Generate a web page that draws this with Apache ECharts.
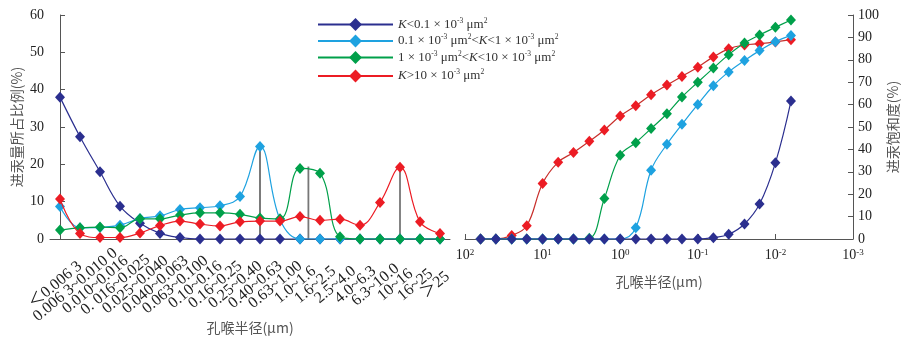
<!DOCTYPE html>
<html>
<head>
<meta charset="utf-8">
<script src="https://cdn.jsdelivr.net/npm/echarts@6/dist/echarts.min.js"></script>
<style>
  html, body { margin: 0; padding: 0; background: #fff; }
  #main { width: 918px; height: 341px; }
</style>
</head>
<body>
<div id="main"></div>
<script>
// 孔喉半径区间 (left panel)
const categories = ['＜0.006 3', '0.006 3~0.010 0', '0.010~0.016', '0. 016~0.025', '0.025~0.040',
  '0.040~0.063', '0.063~0.100', '0.10~0.16', '0.16~0.25', '0.25~0.40', '0.40~0.63', '0.63~1.00',
  '1.0~1.6', '1.6~2.5', '2.5~4.0', '4.0~6.3', '6.3~10.0', '10~16', '16~25', '＞25']

// 进汞量所占比例 (%)
const shareLowK = [38.0, 27.4, 18.0, 8.8, 4.2, 1.5, 0.4, 0, 0, 0, 0, 0, 0, 0, 0, 0, 0, 0, 0, 0]
const shareMidLowK = [8.7, 3.0, 3.1, 3.7, 5.5, 6.2, 7.9, 8.4, 8.9, 11.4, 24.8, 5.2, 0, 0, 0, 0, 0, 0, 0, 0]
const shareMidHighK = [2.4, 3.0, 3.2, 3.0, 5.4, 5.4, 6.4, 7.0, 7.0, 6.6, 5.6, 5.4, 18.9, 17.6, 0.6, 0, 0, 0, 0, 0]
const shareHighK = [10.7, 1.5, 0.4, 0.4, 1.6, 3.6, 4.8, 4.0, 3.5, 4.6, 4.8, 4.8, 6.0, 5.0, 5.3, 3.7, 9.8, 19.2, 4.6, 1.5]

// peak markers (category index, value)
const peakIndex = [10, 12.42, 17]
const peakValue = [24.8, 19.4, 19.2]

// 孔喉半径 (μm), right panel
const radius = [63, 40, 25, 16, 10, 6.3, 4.0, 2.5, 1.6, 1.0, 0.63, 0.40, 0.25, 0.16, 0.10, 0.063, 0.040, 0.025, 0.016, 0.010, 0.0063]

// 进汞饱和度 (%)
const satLowK = [0, 0, 0, 0, 0, 0, 0, 0, 0, 0, 0, 0, 0, 0, 0, 0.6, 2.1, 6.7, 15.6, 34.0, 61.6]
const satMidLowK = [0, 0, 0, 0, 0, 0, 0, 0, 0, 0, 5.0, 30.7, 42.3, 51.2, 60.1, 68.4, 74.6, 79.7, 84.1, 88.1, 90.9]
const satMidHighK = [0, 0, 0, 0, 0, 0, 0, 0.3, 18.1, 37.4, 43.0, 49.3, 55.9, 63.4, 70.0, 76.3, 82.3, 87.5, 91.1, 94.5, 97.8]
const satHighK = [0, 0, 1.6, 5.9, 24.8, 34.3, 38.6, 43.6, 48.7, 54.9, 59.5, 64.4, 68.7, 72.6, 76.7, 81.3, 84.9, 86.6, 87.2, 88.0, 89.0]

const seriesNames = ['K<0.1', '0.1<K<1', '1<K<10', 'K>10']
const legendLabels = [
  '{i|K}<0.1 × 10{s|-3} μm{s|2}',
  '0.1 × 10{s|-3} μm{s|2}<{i|K}<1 × 10{s|-3} μm{s|2}',
  '1 × 10{s|-3} μm{s|2}<{i|K}<10 × 10{s|-3} μm{s|2}',
  '{i|K}>10 × 10{s|-3} μm{s|2}'
]
const colors = ['#2b2f8f', '#1ea2e0', '#00a04a', '#ec1c24']

const serif = "'Liberation Serif', 'Noto Sans CJK SC', serif"
const cjk = "'Noto Sans CJK SC', sans-serif"

function pairs (xs, ys) {
  return xs.map((x, i) => [x, ys[i]])
}

function lineSeries (idx, data, xi, yi, z, lineColor) {
  return {
    name: seriesNames[idx],
    type: 'line',
    xAxisIndex: xi,
    yAxisIndex: yi,
    data: data,
    smooth: 0.4,
    symbol: 'diamond',
    symbolSize: [10, 11],
    z: z,
    lineStyle: { color: lineColor || colors[idx], width: 1.2 },
    itemStyle: { color: colors[idx] }
  }
}

// legend rows are not evenly spaced in the source
const legendTops = [17, 33.5, 50, 68.5]
const legends = seriesNames.map((n, i) => ({
  data: [n],
  left: 317,
  top: legendTops[i],
  padding: 0,
  itemWidth: 75,
  itemHeight: 16,
  itemGap: 0,
  selectedMode: false,
  formatter: () => legendLabels[i],
  textStyle: {
    fontFamily: serif,
    fontSize: 13,
    color: '#333',
    lineHeight: 15,
    rich: {
      i: { fontFamily: serif, fontStyle: 'italic', fontSize: 13, color: '#333', lineHeight: 15 },
      s: { fontFamily: serif, fontSize: 7.5, color: '#333', lineHeight: 8, verticalAlign: 'top' }
    }
  }
}))

const axisLineStyle = { lineStyle: { color: '#555', width: 1 } }

const peakSeries = peakIndex.map((x, i) => ({
  type: 'line',
  xAxisIndex: 2,
  yAxisIndex: 0,
  data: [[x, 0], [x, peakValue[i]]],
  symbol: 'none',
  silent: true,
  z: 1,
  lineStyle: { color: i === 0 ? '#222' : '#777', width: i === 0 ? 1.2 : 1.8 }
}))

const option = {
  backgroundColor: '#fff',
  animation: false,
  legend: legends,
  grid: [
    { left: 50, top: 15, width: 400, height: 224, outerBoundsMode: 'none', containLabel: false },
    { left: 465, top: 15, width: 388, height: 224, outerBoundsMode: 'none', containLabel: false }
  ],
  xAxis: [
    {
      type: 'category',
      gridIndex: 0,
      data: categories,
      axisLine: axisLineStyle,
      axisTick: { inside: true, length: 5, lineStyle: { color: '#555' } },
      axisLabel: {
        interval: 0,
        rotate: 40,
        align: 'center',
        verticalAlign: 'middle',
        margin: 42,
        padding: [0, 12, 10, 0],
        fontFamily: serif,
        fontSize: 16,
        color: '#222'
      },
      name: '孔喉半径(μm)',
      nameLocation: 'middle',
      nameGap: 82,
      nameMoveOverlap: false,
      nameTextStyle: { fontFamily: cjk, fontSize: 14, color: '#555' }
    },
    {
      type: 'log',
      logBase: 10,
      gridIndex: 1,
      min: 0.001,
      max: 100,
      inverse: true,
      axisLine: axisLineStyle,
      axisTick: { inside: true, length: 5, lineStyle: { color: '#555' } },
      splitLine: { show: false },
      axisLabel: {
        margin: 9,
        fontFamily: serif,
        fontSize: 14,
        color: '#222',
        formatter: v => '10{s|' + Math.round(Math.log10(v)) + '}',
        rich: {
          s: { fontFamily: serif, fontSize: 9, color: '#222', lineHeight: 9, verticalAlign: 'top' }
        }
      },
      name: '孔喉半径(μm)',
      nameLocation: 'middle',
      nameGap: 36,
      nameMoveOverlap: false,
      nameTextStyle: { fontFamily: cjk, fontSize: 14, color: '#555' }
    },
    {
      type: 'value',
      gridIndex: 0,
      min: -0.5,
      max: 19.5,
      show: false
    }
  ],
  yAxis: [
    {
      type: 'value',
      gridIndex: 0,
      min: 0,
      max: 60,
      interval: 10,
      axisLine: { show: true, lineStyle: { color: '#555', width: 1 } },
      axisTick: { show: true, inside: true, length: 5, lineStyle: { color: '#555' } },
      splitLine: { show: false },
      axisLabel: { margin: 6, fontFamily: serif, fontSize: 14, color: '#222' },
      name: '进汞量所占比例(%)',
      nameLocation: 'middle',
      nameRotate: 90,
      nameGap: 26,
      nameMoveOverlap: false,
      nameTextStyle: { fontFamily: cjk, fontSize: 14, color: '#555' }
    },
    {
      type: 'value',
      gridIndex: 1,
      position: 'right',
      min: 0,
      max: 100,
      interval: 10,
      axisLine: { show: true, lineStyle: { color: '#555', width: 1 } },
      axisTick: { show: true, inside: true, length: 5, lineStyle: { color: '#555' } },
      splitLine: { show: false },
      axisLabel: { margin: 5, fontFamily: serif, fontSize: 14, color: '#222' },
      name: '进汞饱和度(%)',
      nameLocation: 'middle',
      nameRotate: 90,
      nameGap: 33,
      nameMoveOverlap: false,
      nameTextStyle: { fontFamily: cjk, fontSize: 14, color: '#555' }
    }
  ],
  series: [
    lineSeries(0, shareLowK, 0, 0, 2),
    lineSeries(1, shareMidLowK, 0, 0, 3),
    lineSeries(2, shareMidHighK, 0, 0, 4),
    lineSeries(3, shareHighK, 0, 0, 5),
    lineSeries(3, pairs(radius, satHighK), 1, 1, 2, '#c8302c'),
    lineSeries(2, pairs(radius, satMidHighK), 1, 1, 3),
    lineSeries(1, pairs(radius, satMidLowK), 1, 1, 4),
    lineSeries(0, pairs(radius, satLowK), 1, 1, 5)
  ].concat(peakSeries)
}

const chart = echarts.init(document.getElementById('main'), null, { renderer: 'canvas' })
chart.setOption(option)
</script>
</body>
</html>
